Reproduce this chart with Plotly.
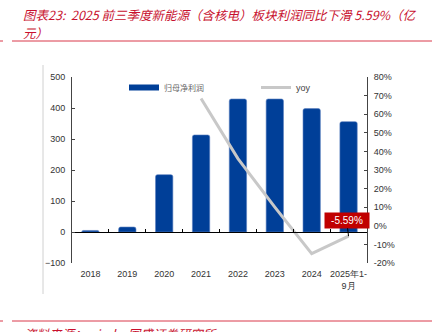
import plotly.graph_objects as go

categories = ["2018", "2019", "2020", "2021", "2022", "2023", "2024", "2025年1-<br>9月"]
profit = [5, 16, 185, 313, 429, 429, 398, 356]
yoy = [None, None, None, 68.4, 36.1, 10.0, -15.0, -5.59]
left_ticks = [-100, 0, 100, 200, 300, 400, 500]
right_ticks = [-20, -10, 0, 10, 20, 30, 40, 50, 60, 70, 80]
right_labels = [f"{v}%" for v in right_ticks]

title_line1 = "图表23:  2025 前三季度新能源（含核电）板块利润同比下滑 5.59%（亿"
title_line2 = "元）"
source_text = "资料来源：wind，国盛证券研究所"
bar_name = "归母净利润"
line_name = "yoy"
label_text = "-5.59%"

W, H = 443, 332
L, R, T, B = 72, 76, 77, 69
PW, PH = W - L - R, H - T - B


def px(x):
    return (x - L) / PW


def py(y):
    return (H - B - y) / PH


BLUE = "#003F98"
RED = "#C8102E"
GRAY = "#C8C8C8"
AX = "#444444"
tickfont = dict(family="Liberation Sans, Arial", size=9, color="#333333")

fig = go.Figure()
fig.add_trace(go.Bar(
    x=categories, y=profit, xaxis="x", yaxis="y",
    marker=dict(color=BLUE, cornerradius=2, line=dict(color="#5a7fc0", width=0.6)),
    width=0.47, showlegend=False,
))
fig.add_trace(go.Scatter(
    x=[None], y=[None], xaxis="x", yaxis="y", mode="lines",
    line=dict(color=BLUE, width=6), name=bar_name, legend="legend",
    showlegend=True, hoverinfo="skip",
))
fig.add_trace(go.Scatter(
    x=categories, y=yoy, xaxis="x2", yaxis="y2", mode="lines",
    line=dict(color=GRAY, width=3), name=line_name, legend="legend2",
    showlegend=True, connectgaps=False,
))

fig.update_layout(
    width=W, height=H,
    margin=dict(l=L, r=R, t=T, b=B, pad=0),
    paper_bgcolor="white", plot_bgcolor="white",
    xaxis=dict(
        type="category", categoryorder="array", categoryarray=categories,
        range=[-0.5, 7.5], domain=[0, 1], showline=False, ticks="",
        showgrid=False, zeroline=False, tickfont=tickfont, ticklabelstandoff=4,
    ),
    xaxis2=dict(
        type="category", categoryorder="array", categoryarray=categories,
        range=[-0.5, 7.5], overlaying="x", anchor="free", position=1 / 6,
        showline=True, linecolor="#000000", linewidth=1,
        ticks="inside", tickson="boundaries", ticklen=3, tickcolor="#000000",
        showticklabels=False, showgrid=False, zeroline=False,
    ),
    yaxis=dict(
        range=[-100, 500], tickmode="array", tickvals=left_ticks,
        showline=True, linecolor=AX, linewidth=1, ticks="inside", ticklen=3,
        tickcolor=AX, showgrid=False, zeroline=False, tickfont=tickfont,
        ticklabelstandoff=4,
    ),
    yaxis2=dict(
        range=[-20, 80], tickmode="array", tickvals=right_ticks, ticktext=right_labels,
        overlaying="y", side="right", anchor="free", position=1,
        showline=True, linecolor=AX, linewidth=1, ticks="inside", ticklen=3,
        tickcolor=AX, showgrid=False, zeroline=False, tickfont=tickfont,
        ticklabelstandoff=4,
    ),
    legend=dict(
        x=px(124), y=py(87.5), xanchor="left", yanchor="middle",
        orientation="h", bgcolor="rgba(0,0,0,0)",
        font=dict(family="Noto Sans CJK SC", size=8, color="#666666"),
    ),
    legend2=dict(
        x=px(256), y=py(87.5), xanchor="left", yanchor="middle",
        orientation="h", bgcolor="rgba(0,0,0,0)",
        font=dict(family="Liberation Sans, Arial", size=9, color="#444444"),
    ),
    showlegend=True,
)

# label with leader line
fig.add_annotation(
    x=categories[-1], y=yoy[-1], xref="x2", yref="y2",
    text=label_text, showarrow=True, arrowhead=0, arrowwidth=1, arrowcolor="#000000",
    ax=-2, ay=-16, bgcolor="#C00000", borderpad=2, width=40, height=11,
    font=dict(family="Liberation Sans, Arial", size=10, color="white"),
)

# title and source
title_font = dict(family="Noto Sans CJK SC", size=12.5, color=RED, style="italic")
fig.add_annotation(
    xref="paper", yref="paper", x=px(21), y=py(14), xanchor="left", yanchor="middle",
    text=title_line1, showarrow=False, align="left", font=title_font,
)
fig.add_annotation(
    xref="paper", yref="paper", x=px(21), y=py(32.5), xanchor="left", yanchor="middle",
    text=title_line2, showarrow=False, align="left", font=title_font,
)
fig.add_annotation(
    xref="paper", yref="paper", x=px(22), y=py(322), xanchor="left", yanchor="top",
    text=source_text, showarrow=False, align="left", font=title_font,
)

# decorative rules
line_red = dict(color="#D9384A", width=1)
for yy in (41, 321):
    fig.add_shape(type="line", xref="paper", yref="paper",
                  x0=px(12), x1=px(432), y0=py(yy), y1=py(yy), line=line_red)
    fig.add_shape(type="line", xref="paper", yref="paper",
                  x0=px(0), x1=px(3), y0=py(yy), y1=py(yy), line=line_red)
fig.add_shape(type="line", xref="paper", yref="paper",
              x0=px(43), x1=px(43), y0=py(65), y1=py(294),
              line=dict(color="#D0D0D0", width=1))

fig.write_html("out.html")
